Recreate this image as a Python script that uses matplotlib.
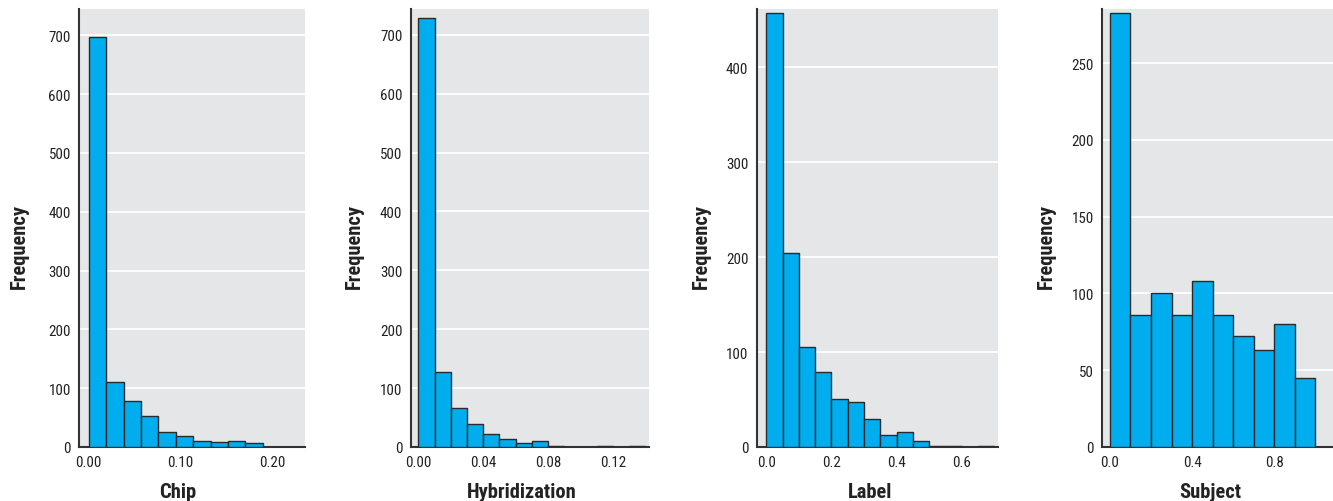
import matplotlib
matplotlib.use("Agg")
import matplotlib.pyplot as plt
from matplotlib.ticker import FormatStrFormatter
import numpy as np

# ---- data ----
names = ["Chip", "Hybridization", "Label", "Subject"]

chip_bin_width = 0.019
chip_counts = [697, 111, 78, 52, 25, 19, 11, 9, 10, 6]

hyb_bin_width = 0.01
hyb_counts = [728, 127, 67, 39, 22, 13, 7, 10, 1, 0, 0, 2, 0, 2]

label_bin_width = 0.05
label_counts = [457, 204, 105, 79, 51, 47, 29, 13, 16, 6, 1, 1, 0, 1]

subject_bin_width = 0.1
subject_counts = [283, 86, 100, 86, 108, 86, 72, 63, 80, 45]

chip_xticks = [0.0, 0.1, 0.2]
hyb_xticks = [0.0, 0.04, 0.08, 0.12]
label_xticks = [0.0, 0.2, 0.4, 0.6]
subject_xticks = [0.0, 0.4, 0.8]

chip_yticks = [0, 100, 200, 300, 400, 500, 600, 700]
hyb_yticks = [0, 100, 200, 300, 400, 500, 600, 700]
label_yticks = [0, 100, 200, 300, 400]
subject_yticks = [0, 50, 100, 150, 200, 250]

# ---- styling / layout ----
FONT = ["Roboto Condensed", "Archivo Narrow", "DejaVu Sans"]
plt.rcParams["font.family"] = FONT

BAR = "#00AEEF"
EDGE = "#2a2a2a"
BG = "#E5E6E8"
TXT = "#222222"

fig = plt.figure(figsize=(13.33, 5.02), dpi=100)

panels = [
    dict(counts=chip_counts, w=chip_bin_width, xt=chip_xticks, yt=chip_yticks,
         fmt="%.2f", rect=[0.0595, 0.1076, 0.1693, 0.8715],
         xlim=(-0.0103, 0.236), ylim=(0, 744), xl=0.437, yl=-0.225),
    dict(counts=hyb_counts, w=hyb_bin_width, xt=hyb_xticks, yt=hyb_yticks,
         fmt="%.2f", rect=[0.3081, 0.1076, 0.1788, 0.8715],
         xlim=(-0.0048, 0.1423), ylim=(0, 743), xl=0.465, yl=-0.195),
    dict(counts=label_counts, w=label_bin_width, xt=label_xticks, yt=label_yticks,
         fmt="%.1f", rect=[0.5677, 0.1076, 0.1810, 0.8715],
         xlim=(-0.0294, 0.711), ylim=(0, 461), xl=0.469, yl=-0.19),
    dict(counts=subject_counts, w=subject_bin_width, xt=subject_xticks, yt=subject_yticks,
         fmt="%.1f", rect=[0.8270, 0.1076, 0.1730, 0.8715],
         xlim=(-0.037, 1.087), ylim=(0, 285), xl=0.467, yl=-0.20),
]

for name, p in zip(names, panels):
    ax = fig.add_axes(p["rect"])
    ax.set_facecolor(BG)
    counts = np.asarray(p["counts"], dtype=float)
    lefts = np.arange(len(counts)) * p["w"]
    ax.bar(lefts, counts, width=p["w"], align="edge", color=BAR,
           edgecolor=EDGE, linewidth=1.0, zorder=3)
    ax.set_xlim(*p["xlim"])
    ax.set_ylim(*p["ylim"])
    ax.set_xticks(p["xt"])
    ax.set_yticks(p["yt"])
    ax.xaxis.set_major_formatter(FormatStrFormatter(p["fmt"]))
    ax.yaxis.grid(True, color="white", linewidth=1.3, zorder=0)
    ax.xaxis.grid(False)
    ax.set_axisbelow(True)
    for s in ("top", "right"):
        ax.spines[s].set_visible(False)
    for s in ("left", "bottom"):
        ax.spines[s].set_color("#333333")
        ax.spines[s].set_linewidth(1.5)
    ax.tick_params(axis="both", length=0, labelsize=10.8, colors=TXT, pad=6)
    ax.set_xlabel(name, fontsize=14.8, fontweight="bold", color=TXT)
    ax.set_ylabel("Frequency", fontsize=14.8, fontweight="bold", color=TXT)
    ax.xaxis.set_label_coords(p["xl"], -0.080)
    ax.yaxis.set_label_coords(p["yl"], 0.46)

fig.savefig("out.png", dpi=100)
